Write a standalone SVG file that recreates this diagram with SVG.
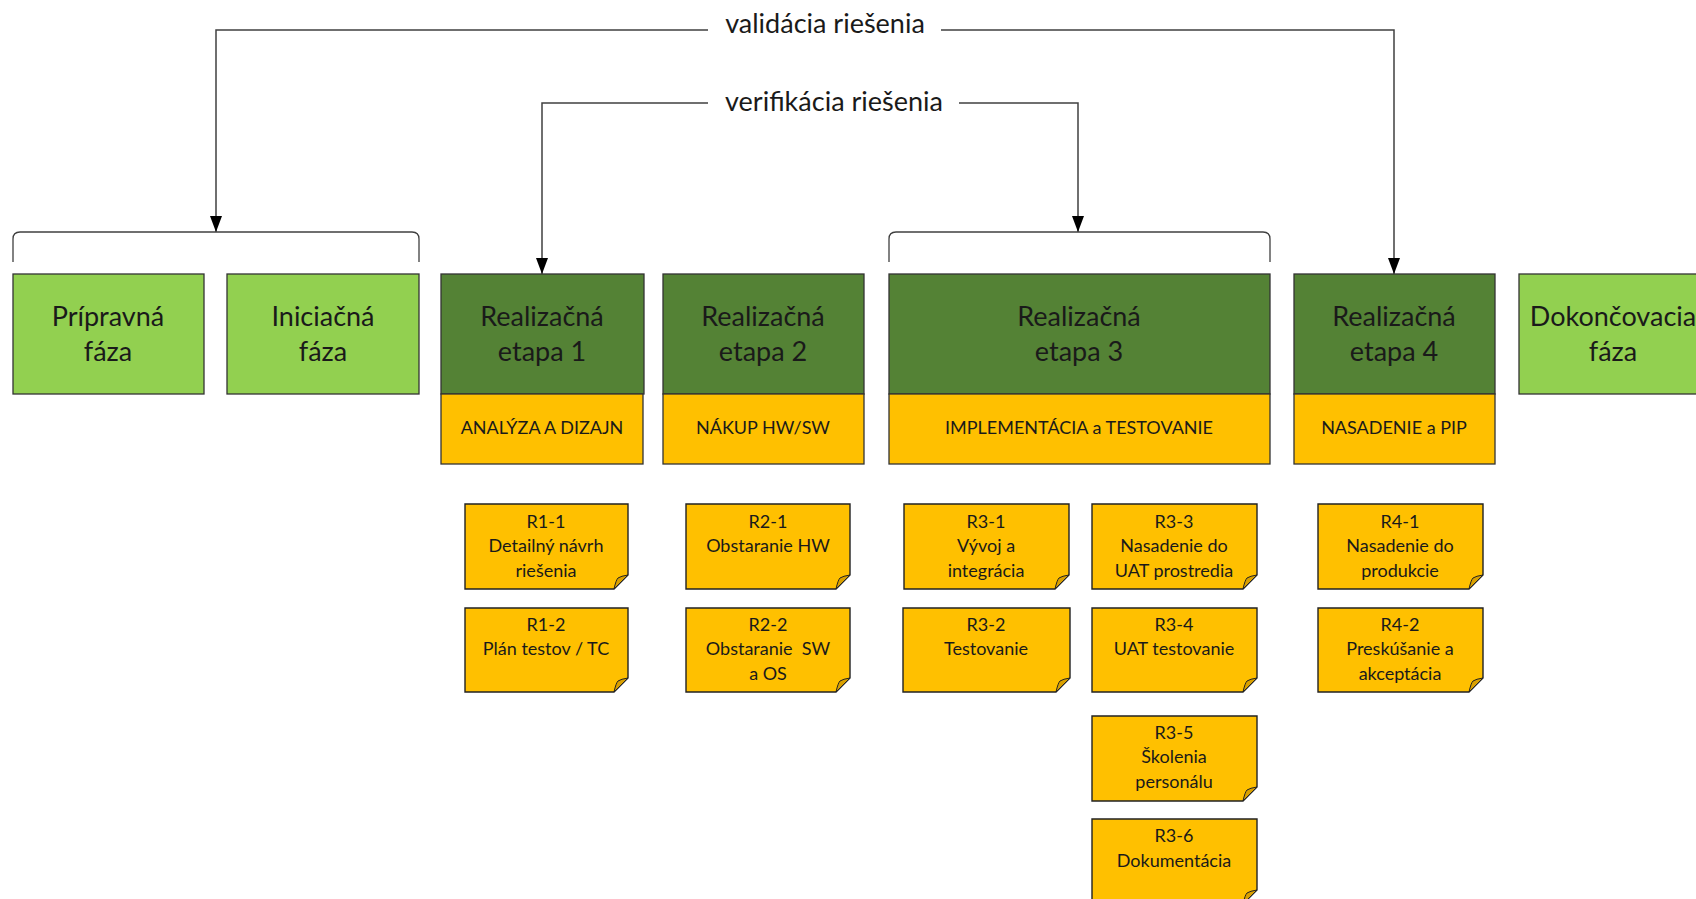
<svg xmlns="http://www.w3.org/2000/svg" width="1696" height="899" viewBox="0 0 1696 899">
<defs>
<marker id="arr" viewBox="0 0 16 12" refX="16" refY="6" markerWidth="16" markerHeight="12" markerUnits="userSpaceOnUse" orient="auto">
<path d="M0,0 L16,6 L0,12 Z" fill="#000"/>
</marker>
<style>
.t{font-family:Lato,"Open Sans","Liberation Sans",sans-serif;fill:#1a1a1a;text-anchor:middle}
.big{font-size:27px}
.lbl{font-size:27px}
.strip{font-size:18px}
.note{font-size:18px}
.lg{fill:#92D050;stroke:#333;stroke-width:1.3}
.dg{fill:#548235;stroke:#333;stroke-width:1.3}
.ye{fill:#FFC000;stroke:#333;stroke-width:1.3}
.nt{fill:#FFC000;stroke:#222;stroke-width:1.4}
.fold{fill:#D9A000;stroke:#222;stroke-width:1}
.ln{fill:none;stroke:#404040;stroke-width:1.5}
.br{fill:none;stroke:#404040;stroke-width:1.3}
</style>
</defs>
<rect width="1696" height="899" fill="#fff"/>

<g id="connectors">
<path class="ln" d="M708,30 H216 V232" marker-end="url(#arr)"/>
<path class="ln" d="M941,30 H1394 V274" marker-end="url(#arr)"/>
<path class="ln" d="M708,103 H542 V274" marker-end="url(#arr)"/>
<path class="ln" d="M959,103 H1078 V232" marker-end="url(#arr)"/>
<path class="br" d="M13,262 V239 Q13,232 20,232 H412 Q419,232 419,239 V262"/>
<path class="br" d="M889,262 V239 Q889,232 896,232 H1263 Q1270,232 1270,239 V262"/>
<text class="t lbl" x="825" y="33">validácia riešenia</text>
<text class="t lbl" x="834" y="111">verifikácia riešenia</text>
</g>

<g id="pripravna">
<rect class="lg" x="13" y="274" width="191" height="120"/>
<text class="t big" x="108" y="326">Prípravná</text>
<text class="t big" x="108" y="361">fáza</text>
</g>
<g id="iniciacna">
<rect class="lg" x="227" y="274" width="192" height="120"/>
<text class="t big" x="323" y="326">Iniciačná</text>
<text class="t big" x="323" y="361">fáza</text>
</g>
<g id="etapa1">
<rect class="dg" x="441" y="274" width="203" height="120"/>
<rect class="ye" x="441" y="394" width="202" height="70"/>
<text class="t big" x="542" y="326">Realizačná</text>
<text class="t big" x="542" y="361">etapa 1</text>
<text class="t strip" x="542" y="434">ANALÝZA A DIZAJN</text>
</g>
<g id="etapa2">
<rect class="dg" x="663" y="274" width="201" height="120"/>
<rect class="ye" x="663" y="394" width="201" height="70"/>
<text class="t big" x="763" y="326">Realizačná</text>
<text class="t big" x="763" y="361">etapa 2</text>
<text class="t strip" x="763" y="434">NÁKUP HW/SW</text>
</g>
<g id="etapa3">
<rect class="dg" x="889" y="274" width="381" height="120"/>
<rect class="ye" x="889" y="394" width="381" height="70"/>
<text class="t big" x="1079" y="326">Realizačná</text>
<text class="t big" x="1079" y="361">etapa 3</text>
<text class="t strip" x="1079" y="434">IMPLEMENTÁCIA a TESTOVANIE</text>
</g>
<g id="etapa4">
<rect class="dg" x="1294" y="274" width="201" height="120"/>
<rect class="ye" x="1294" y="394" width="201" height="70"/>
<text class="t big" x="1394" y="326">Realizačná</text>
<text class="t big" x="1394" y="361">etapa 4</text>
<text class="t strip" x="1394" y="434">NASADENIE a PIP</text>
</g>
<g id="dokoncovacia">
<rect class="lg" x="1519" y="274" width="192" height="120"/>
<text class="t big" x="1613" y="326">Dokončovacia</text>
<text class="t big" x="1613" y="361">fáza</text>
</g>

<g id="r1-1">
<path class="nt" d="M465,504 H628 V575 L614,589 H465 Z"/>
<path class="fold" d="M628,575 L614,589 Q616,580 618,578 Q621,576 628,575 Z"/>
<text class="t note" x="546" y="528">R1-1</text>
<text class="t note" x="546" y="552">Detailný návrh</text>
<text class="t note" x="546" y="577">riešenia</text>
</g>
<g id="r1-2">
<path class="nt" d="M465,608 H628 V678 L614,692 H465 Z"/>
<path class="fold" d="M628,678 L614,692 Q616,683 618,681 Q621,679 628,678 Z"/>
<text class="t note" x="546" y="631">R1-2</text>
<text class="t note" x="546" y="655">Plán testov / TC</text>
</g>
<g id="r2-1">
<path class="nt" d="M686,504 H850 V575 L836,589 H686 Z"/>
<path class="fold" d="M850,575 L836,589 Q838,580 840,578 Q843,576 850,575 Z"/>
<text class="t note" x="768" y="528">R2-1</text>
<text class="t note" x="768" y="552">Obstaranie HW</text>
</g>
<g id="r2-2">
<path class="nt" d="M686,608 H850 V678 L836,692 H686 Z"/>
<path class="fold" d="M850,678 L836,692 Q838,683 840,681 Q843,679 850,678 Z"/>
<text class="t note" x="768" y="631">R2-2</text>
<text class="t note" x="768" y="655" xml:space="preserve">Obstaranie  SW</text>
<text class="t note" x="768" y="680">a OS</text>
</g>
<g id="r3-1">
<path class="nt" d="M904,504 H1069 V575 L1055,589 H904 Z"/>
<path class="fold" d="M1069,575 L1055,589 Q1057,580 1059,578 Q1062,576 1069,575 Z"/>
<text class="t note" x="986" y="528">R3-1</text>
<text class="t note" x="986" y="552">Vývoj a</text>
<text class="t note" x="986" y="577">integrácia</text>
</g>
<g id="r3-2">
<path class="nt" d="M903,608 H1070 V678 L1056,692 H903 Z"/>
<path class="fold" d="M1070,678 L1056,692 Q1058,683 1060,681 Q1063,679 1070,678 Z"/>
<text class="t note" x="986" y="631">R3-2</text>
<text class="t note" x="986" y="655">Testovanie</text>
</g>
<g id="r3-3">
<path class="nt" d="M1092,504 H1257 V575 L1243,589 H1092 Z"/>
<path class="fold" d="M1257,575 L1243,589 Q1245,580 1247,578 Q1250,576 1257,575 Z"/>
<text class="t note" x="1174" y="528">R3-3</text>
<text class="t note" x="1174" y="552">Nasadenie do</text>
<text class="t note" x="1174" y="577">UAT prostredia</text>
</g>
<g id="r3-4">
<path class="nt" d="M1092,608 H1257 V678 L1243,692 H1092 Z"/>
<path class="fold" d="M1257,678 L1243,692 Q1245,683 1247,681 Q1250,679 1257,678 Z"/>
<text class="t note" x="1174" y="631">R3-4</text>
<text class="t note" x="1174" y="655">UAT testovanie</text>
</g>
<g id="r3-5">
<path class="nt" d="M1092,716 H1257 V787 L1243,801 H1092 Z"/>
<path class="fold" d="M1257,787 L1243,801 Q1245,792 1247,790 Q1250,788 1257,787 Z"/>
<text class="t note" x="1174" y="739">R3-5</text>
<text class="t note" x="1174" y="763">Školenia</text>
<text class="t note" x="1174" y="788">personálu</text>
</g>
<g id="r3-6">
<path class="nt" d="M1092,819 H1257 V890 L1243,904 H1092 Z"/>
<path class="fold" d="M1257,890 L1243,904 Q1245,895 1247,893 Q1250,891 1257,890 Z"/>
<text class="t note" x="1174" y="842">R3-6</text>
<text class="t note" x="1174" y="867">Dokumentácia</text>
</g>
<g id="r4-1">
<path class="nt" d="M1318,504 H1483 V575 L1469,589 H1318 Z"/>
<path class="fold" d="M1483,575 L1469,589 Q1471,580 1473,578 Q1476,576 1483,575 Z"/>
<text class="t note" x="1400" y="528">R4-1</text>
<text class="t note" x="1400" y="552">Nasadenie do</text>
<text class="t note" x="1400" y="577">produkcie</text>
</g>
<g id="r4-2">
<path class="nt" d="M1318,608 H1483 V678 L1469,692 H1318 Z"/>
<path class="fold" d="M1483,678 L1469,692 Q1471,683 1473,681 Q1476,679 1483,678 Z"/>
<text class="t note" x="1400" y="631">R4-2</text>
<text class="t note" x="1400" y="655">Preskúšanie a</text>
<text class="t note" x="1400" y="680">akceptácia</text>
</g>
</svg>
